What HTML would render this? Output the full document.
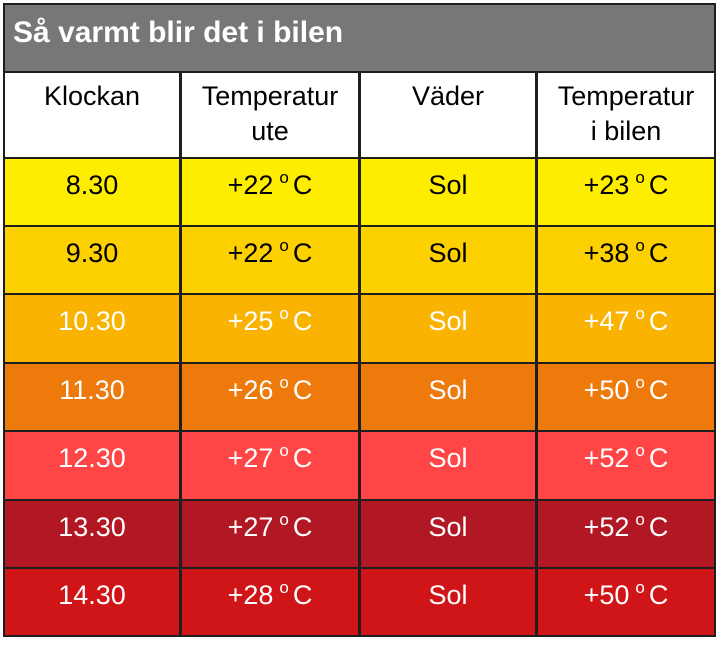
<!DOCTYPE html>
<html><head><meta charset="utf-8"><style>
body{margin:0;width:720px;height:645px;background:#fff;overflow:hidden;font-family:"Liberation Sans",sans-serif;}
.t{position:absolute;left:3px;top:3px;width:713px;height:634px;background:#1e1e1e;}
.c{position:absolute;display:flex;align-items:flex-start;justify-content:center;text-align:center;font-size:27px;box-sizing:border-box;padding-top:9px;line-height:35px;}
.o{font-size:17px;position:relative;top:-8px;margin:0 4px 0 6px;}
</style></head><body>
<div class="t"></div>
<div style="position:absolute;left:5px;top:5px;width:709px;height:66px;background:#777;color:#fff;font-weight:bold;font-size:30px;line-height:56px;padding-left:8px;box-sizing:border-box;">Så varmt blir det i bilen</div>
<div id="g"></div>
<script>
var cols=[[5,179],[182,358],[361,535],[538,714]];
var rows=[[73,157],[159,225],[227,293],[295,362],[364,430],[432,499],[501,567],[569,635]];
var bg=["#fff","#ffed00","#fdd100","#f9b300","#ed7a0a","#ff4545","#b21824","#cf1518"];
var fg=["#000","#000","#000","#fff","#fff","#fff","#fff","#fff"];
var data=[["Klockan","Temperatur<br>ute","Väder","Temperatur<br>i bilen"],
["8.30","22","Sol","23"],["9.30","22","Sol","38"],["10.30","25","Sol","47"],["11.30","26","Sol","50"],["12.30","27","Sol","52"],["13.30","27","Sol","52"],["14.30","28","Sol","50"]];
var h="";
for(var r=0;r<8;r++)for(var c=0;c<4;c++){
var t=data[r][c];
if(r>0&&(c==1||c==3))t="+"+t+'<span class="o">o</span>C';
h+='<div class="c" style="left:'+cols[c][0]+'px;width:'+(cols[c][1]-cols[c][0])+'px;top:'+rows[r][0]+'px;height:'+(rows[r][1]-rows[r][0])+'px;background:'+bg[r]+';color:'+fg[r]+';'+(r==0?'padding-top:6px;':'')+'">'+t+'</div>';}
document.getElementById("g").innerHTML=h;
</script>
</body></html>
